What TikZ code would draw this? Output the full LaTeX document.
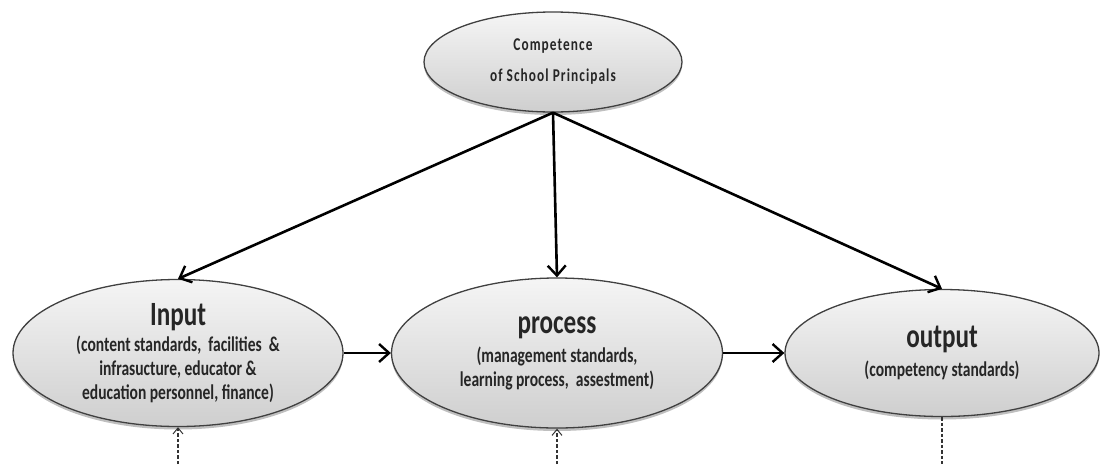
\documentclass[tikz,border=0pt]{standalone}
\usepackage{fontspec}
\setmainfont{Carlito}[FakeStretch=0.74]
\newfontfamily\topfont{Carlito}[FakeStretch=0.74,LetterSpace=6]
\usetikzlibrary{arrows.meta,shadows,shapes.geometric}
\begin{document}
\begin{tikzpicture}[x=1pt,y=-1pt,
  oval/.style={ellipse,draw=black!75,line width=1.3pt,inner sep=0pt,
    top color=gray!8,bottom color=gray!38,
    drop shadow={shadow xshift=0pt,shadow yshift=-3pt,opacity=0.25,fill=black},
    align=center,text=black!85},
  subtxt/.style={font={\bfseries\fontsize{21}{24}\selectfont}},
  main/.style={line width=2.6pt,-{Straight Barb[length=10pt,width=18pt,line width=2.4pt]}},
  dashline/.style={line width=1.1pt,black!80,dash pattern=on 3.5pt off 2pt},
]
\useasboundingbox (0,0) rectangle (1100,464);
\node[oval,minimum width=258pt,minimum height=100pt,
  font={\topfont\bfseries\fontsize{18}{31}\selectfont}] (top) at (553,62)
  {Competence\\ of School Principals};
\node[oval,subtxt,minimum width=330pt,minimum height=147pt] (in) at (178,353)
  {{\fontsize{34}{34}\selectfont Input}\\[2pt]
   (content standards, \ facilities \ \&\\
   infrasucture, educator \&\\ education personnel, finance)};
\node[oval,subtxt,minimum width=331pt,minimum height=150pt] (pr) at (557,353)
  {{\fontsize{34}{34}\selectfont process}\\[5pt]
   (management standards,\\ learning process, \ assestment)};
\node[oval,subtxt,minimum width=314pt,minimum height=127pt] (out) at (942,353)
  {{\fontsize{34}{34}\selectfont output}\\[5pt]
   (competency standards)};
\draw[main] (top.south) -- (in.north);
\draw[main] (top.south) -- (pr.north);
\draw[main] (top.south) -- (out.north);
\draw[main] (in.east) -- (pr.west);
\draw[main] (pr.east) -- (out.west);
\coordinate (a) at (178,464);
\coordinate (b) at (557,464);
\coordinate (c) at (942,464);
\draw[dashline,-{Straight Barb[length=6pt,width=10pt,line width=1pt]}] (a) -- (in.south);
\draw[dashline,-{Straight Barb[length=6pt,width=10pt,line width=1pt]}] (b) -- (pr.south);
\draw[dashline] (out.south) -- (c);
\end{tikzpicture}
\end{document}
